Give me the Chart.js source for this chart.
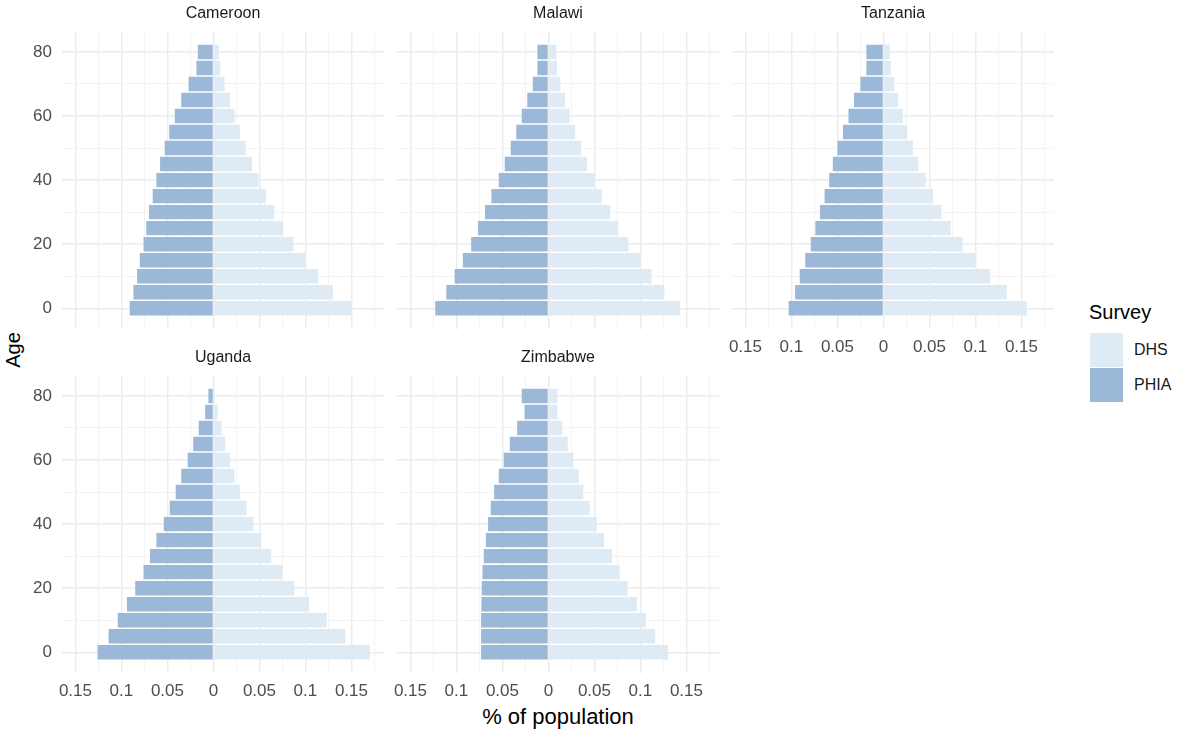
<!DOCTYPE html>
<html>
<head>
<meta charset="utf-8">
<script src="https://cdn.jsdelivr.net/npm/chart.js@4.4.0/dist/chart.umd.min.js"></script>
<style>
  body { margin: 0; background: #fff; width: 1180px; height: 729px; position: relative; overflow: hidden;
         font-family: "Liberation Sans", Arial, sans-serif; }
  canvas { position: absolute; }
  .txt { position: absolute; white-space: nowrap; color: #000; }
  .key { position: absolute; width: 33px; height: 34px; }
</style>
</head>
<body>

<div class="txt" id="xtitle" style="left:558px; top:717px; font-size:22px; transform:translate(-50%,-50%);">% of population</div>
<div class="txt" id="ytitle" style="left:13px; top:350px; font-size:20px; transform:translate(-50%,-50%) rotate(-90deg);">Age</div>

<div class="txt" style="left:1089px; top:312px; font-size:20px; transform:translateY(-50%);">Survey</div>
<div class="key" id="keyDHS" style="left:1090px; top:333px;"></div>
<div class="key" id="keyPHIA" style="left:1090px; top:368px;"></div>
<div class="txt" style="left:1134px; top:350px; font-size:16px; color:#1a1a1a; transform:translateY(-50%);">DHS</div>
<div class="txt" style="left:1134px; top:385px; font-size:16px; color:#1a1a1a; transform:translateY(-50%);">PHIA</div>

<script>
// Age groups (lower bound of each 5-year band)
const ages = [0, 5, 10, 15, 20, 25, 30, 35, 40, 45, 50, 55, 60, 65, 70, 75, 80];

// Share of population per age group, age 0 -> 80
// PHIA is kept positive here and drawn to the left of zero
const cameroonPHIA = [0.091, 0.087, 0.083, 0.080, 0.076, 0.073, 0.070, 0.066, 0.062, 0.058, 0.053, 0.048, 0.042, 0.035, 0.027, 0.0185, 0.017];
const cameroonDHS  = [0.150, 0.130, 0.114, 0.100, 0.087, 0.076, 0.066, 0.057, 0.049, 0.042, 0.035, 0.029, 0.023, 0.018, 0.012, 0.0076, 0.006];

const malawiPHIA = [0.123, 0.111, 0.102, 0.093, 0.084, 0.0765, 0.069, 0.062, 0.054, 0.0475, 0.041, 0.035, 0.029, 0.023, 0.017, 0.012, 0.012];
const malawiDHS  = [0.143, 0.126, 0.112, 0.100, 0.087, 0.076, 0.067, 0.058, 0.050, 0.042, 0.0355, 0.029, 0.023, 0.018, 0.013, 0.0094, 0.0087];

const tanzaniaPHIA = [0.103, 0.096, 0.091, 0.085, 0.079, 0.074, 0.069, 0.064, 0.059, 0.055, 0.050, 0.044, 0.038, 0.032, 0.025, 0.0185, 0.0185];
const tanzaniaDHS  = [0.156, 0.134, 0.116, 0.100, 0.086, 0.073, 0.063, 0.054, 0.046, 0.038, 0.032, 0.026, 0.021, 0.016, 0.012, 0.008, 0.007];

const ugandaPHIA = [0.126, 0.114, 0.104, 0.094, 0.085, 0.076, 0.069, 0.062, 0.054, 0.0475, 0.041, 0.035, 0.028, 0.022, 0.016, 0.009, 0.0055];
const ugandaDHS  = [0.170, 0.1435, 0.123, 0.104, 0.088, 0.075, 0.063, 0.052, 0.0435, 0.036, 0.029, 0.023, 0.018, 0.013, 0.0087, 0.0047, 0.0012];

const zimbabwePHIA = [0.0732, 0.0732, 0.0732, 0.0728, 0.0725, 0.0717, 0.0703, 0.068, 0.0656, 0.0627, 0.059, 0.054, 0.0486, 0.042, 0.034, 0.026, 0.029];
const zimbabweDHS  = [0.130, 0.116, 0.106, 0.096, 0.086, 0.0775, 0.069, 0.0605, 0.0525, 0.045, 0.038, 0.033, 0.027, 0.021, 0.015, 0.0098, 0.0098];

// Tick positions (majors get labels, the rest are minor grid lines)
const xTicks = [-0.15, -0.125, -0.1, -0.075, -0.05, -0.025, 0, 0.025, 0.05, 0.075, 0.1, 0.125, 0.15, 0.175];
const yTicks = [0, 10, 20, 30, 40, 50, 60, 70, 80];

const DHS_COLOR = '#deebf5';
const PHIA_COLOR = '#9bb8d9';

// panel geometry
const PW = 322, PH = 298;      // plot area
const YW = 50, TH = 30, XH = 30; // y-axis gutter, strip height, x-axis gutter
const XMIN = -0.1646, XMAX = 0.1854;
const YMIN = -6.475, YMAX = 86.475;

document.getElementById('keyDHS').style.background = DHS_COLOR;
document.getElementById('keyPHIA').style.background = PHIA_COLOR;

function isMajorX(v) { return Math.abs(Math.round(v * 1000)) % 50 === 0; }
function isMajorY(v) { return Math.round(v) % 20 === 0; }

function makePanel(name, phia, dhs, left, top, showY, showX) {
    const canvas = document.createElement('canvas');
    canvas.width = PW + YW;
    canvas.height = PH + TH + XH;
    canvas.style.left = (left - YW) + 'px';
    canvas.style.top = (top - TH) + 'px';
    document.body.appendChild(canvas);

    new Chart(canvas, {
        type: 'bar',
        data: {
            datasets: [
                {
                    label: 'PHIA',
                    data: ages.map((a, i) => ({ y: a, x: -phia[i] })),
                    backgroundColor: PHIA_COLOR
                },
                {
                    label: 'DHS',
                    data: ages.map((a, i) => ({ y: a, x: dhs[i] })),
                    backgroundColor: DHS_COLOR
                }
            ]
        },
        options: {
            indexAxis: 'y',
            responsive: false,
            animation: false,
            layout: { padding: 0 },
            datasets: { bar: { barPercentage: 0.9, categoryPercentage: 1 } },
            plugins: {
                legend: { display: false },
                tooltip: { enabled: false },
                title: {
                    display: true,
                    text: name,
                    fullSize: false,
                    color: '#1a1a1a',
                    font: { family: '"Liberation Sans", Arial, sans-serif', size: 16, weight: 'normal' },
                    padding: { top: 3, bottom: 8 }
                }
            },
            scales: {
                x: {
                    type: 'linear',
                    stacked: true,
                    min: XMIN,
                    max: XMAX,
                    border: { display: false },
                    afterBuildTicks: s => { s.ticks = xTicks.map(v => ({ value: v })); },
                    afterFit: s => { s.height = XH; },
                    grid: {
                        offset: false,
                        drawTicks: false,
                        color: ctx => (ctx.tick && isMajorX(ctx.tick.value)) ? '#ebebeb' : '#f3f3f3',
                        lineWidth: ctx => (ctx.tick && isMajorX(ctx.tick.value)) ? 1.4 : 1
                    },
                    ticks: {
                        display: showX,
                        autoSkip: false,
                        maxRotation: 0,
                        padding: 8,
                        color: '#4d4d4d',
                        font: { family: '"Liberation Sans", Arial, sans-serif', size: 17 },
                        callback: v => isMajorX(v) ? String(+Math.abs(v).toFixed(3)) : ''
                    }
                },
                y: {
                    type: 'linear',
                    stacked: true,
                    offset: false,
                    min: YMIN,
                    max: YMAX,
                    border: { display: false },
                    afterBuildTicks: s => { s.ticks = yTicks.map(v => ({ value: v })); },
                    afterFit: s => { s.width = YW; },
                    grid: {
                        offset: false,
                        drawTicks: false,
                        color: ctx => (ctx.tick && isMajorY(ctx.tick.value)) ? '#ebebeb' : '#f3f3f3',
                        lineWidth: ctx => (ctx.tick && isMajorY(ctx.tick.value)) ? 1.4 : 1
                    },
                    ticks: {
                        display: showY,
                        autoSkip: false,
                        padding: 10,
                        color: '#4d4d4d',
                        font: { family: '"Liberation Sans", Arial, sans-serif', size: 17 },
                        callback: v => isMajorY(v) ? String(v) : ''
                    }
                }
            }
        }
    });
}

// facet layout: 3 columns, 2 rows
makePanel('Cameroon', cameroonPHIA, cameroonDHS, 62, 31, true, false);
makePanel('Malawi', malawiPHIA, malawiDHS, 397, 31, false, false);
makePanel('Tanzania', tanzaniaPHIA, tanzaniaDHS, 732, 31, false, true);
makePanel('Uganda', ugandaPHIA, ugandaDHS, 62, 375, true, true);
makePanel('Zimbabwe', zimbabwePHIA, zimbabweDHS, 397, 375, false, true);
</script>
</body>
</html>
